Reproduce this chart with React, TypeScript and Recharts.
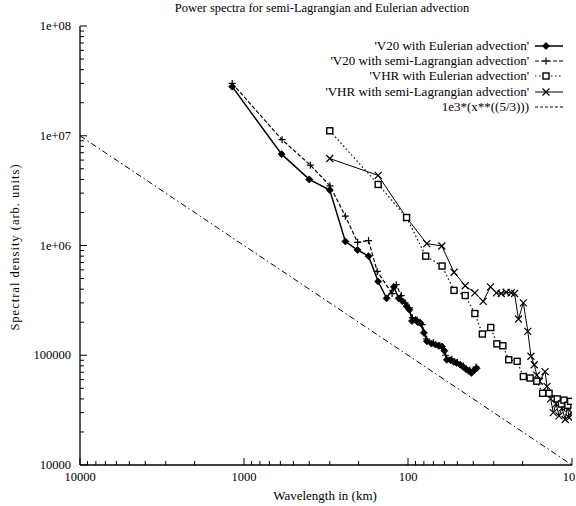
import React from 'react';
import { LineChart, Line, XAxis, YAxis, Legend } from 'recharts';

// ---- data (wavelength in km, spectral density) ----
const v20EulerWavelength = [1180, 590, 400, 300, 241, 203, 174, 152, 135, 122, 114, 108, 102, 98, 94.5, 90, 87, 84, 80, 76.7, 72, 68, 65, 62, 60, 58, 55, 52.5, 50.5, 48, 46, 44, 42.5, 41, 39.5, 38.2];
const v20EulerDensity = [2.8e7, 6.8e6, 4.0e6, 3.2e6, 1.09e6, 9.1e5, 8.0e5, 4.7e5, 3.3e5, 4.2e5, 3.3e5, 3.1e5, 2.8e5, 2.6e5, 2.05e5, 2.1e5, 2.0e5, 1.97e5, 1.6e5, 1.34e5, 1.28e5, 1.25e5, 1.22e5, 1.2e5, 1.1e5, 9.1e4, 9.0e4, 8.7e4, 8.5e4, 8.2e4, 7.8e4, 7.4e4, 7.2e4, 6.9e4, 7.3e4, 7.6e4];

const v20SemiLagWavelength = [1180, 586, 394, 299, 241, 203, 174, 154, 125, 118, 110, 104, 98, 94, 88, 82, 77, 70, 64, 59, 54, 50, 46, 42, 38.5];
const v20SemiLagDensity = [3.0e7, 9.2e6, 5.4e6, 3.5e6, 1.85e6, 1.07e6, 1.11e6, 5.8e5, 3.65e5, 4.4e5, 3.5e5, 3.0e5, 2.7e5, 2.2e5, 2.1e5, 1.9e5, 1.4e5, 1.3e5, 1.22e5, 1.0e5, 9.2e4, 8.6e4, 8.0e4, 7.3e4, 7.8e4];

const vhrEulerWavelength = [300, 152, 102, 78, 62, 52.4, 44.8, 39.1, 35.2, 31.3, 28.7, 26.4, 24.3, 21.6, 19.8, 18, 16.4, 15.1, 13.8, 12.3, 11.6, 11.2, 10.6, 10.2];
const vhrEulerDensity = [1.11e7, 3.6e6, 1.8e6, 8.0e5, 6.5e5, 3.9e5, 3.5e5, 2.4e5, 1.56e5, 1.79e5, 1.27e5, 1.22e5, 9.1e4, 8.8e4, 6.4e4, 6.2e4, 5.8e4, 4.5e4, 4.5e4, 4.0e4, 3.6e4, 3.9e4, 3.5e4, 3.8e4];

const vhrSemiLagWavelength = [300, 152, 102, 76.8, 62.2, 52.4, 44.8, 39.1, 34.8, 31.4, 28.9, 27, 25.2, 23.5, 22.4, 21.2, 19.8, 18.6, 17.8, 17, 16.4, 15.8, 14.6, 14.2, 13.5, 13, 12.5, 12, 11.5, 11, 10.7, 10.4, 10.1];
const vhrSemiLagDensity = [6.2e6, 4.35e6, 1.79e6, 1.04e6, 9.9e5, 5.7e5, 4.3e5, 3.7e5, 3.1e5, 4.2e5, 3.7e5, 3.65e5, 3.75e5, 3.7e5, 3.65e5, 2.14e5, 3.0e5, 1.65e5, 9.8e4, 8.2e4, 6.6e4, 5.8e4, 7.1e4, 5.2e4, 4.0e4, 3.0e4, 3.6e4, 2.8e4, 3.3e4, 2.6e4, 3.4e4, 2.7e4, 3.0e4];

const refWavelength = [10000, 10];
const refDensity = [1e7, 1e4];

const seriesNames = [
  "'V20 with Eulerian advection'",
  "'V20 with semi-Lagrangian advection'",
  "'VHR with Eulerian advection'",
  "'VHR with semi-Lagrangian advection'",
  '1e3*(x**((5/3)))',
];

const xMajorTicks = [10, 100, 1000, 10000];
const yMajorTicks = [1e4, 1e5, 1e6, 1e7, 1e8];
const yTickLabels: Record<number, string> = { 10000: '10000', 100000: '100000', 1000000: '1e+06', 10000000: '1e+07', 100000000: '1e+08' };
const minorMultipliers = [1, 2, 3, 4, 5, 6, 7, 8, 9];

const zip = (xs: number[], ys: number[]) => xs.map((x, i) => ({ x, y: ys[i] }));
const v20Euler = zip(v20EulerWavelength, v20EulerDensity);
const v20SemiLag = zip(v20SemiLagWavelength, v20SemiLagDensity);
const vhrEuler = zip(vhrEulerWavelength, vhrEulerDensity);
const vhrSemiLag = zip(vhrSemiLagWavelength, vhrSemiLagDensity);
const refLine = zip(refWavelength, refDensity);

const buildTicks = (majors: number[]) => {
  const out: number[] = [];
  for (let i = 0; i < majors.length - 1; i++) {
    for (const m of minorMultipliers) out.push(majors[i] * m);
  }
  out.push(majors[majors.length - 1]);
  return out;
};
const xTicks = buildTicks(xMajorTicks);
const yTicks = buildTicks(yMajorTicks);

const isMajor = (v: number) => Math.abs(Math.log10(v) - Math.round(Math.log10(v))) < 1e-6;

const FONT = '"Liberation Serif", "DejaVu Serif", serif';
const FS = 12;

const BottomTick = (p: any) => {
  const { x, y, payload } = p;
  const v = payload.value;
  const mj = isMajor(v);
  const shift = v === 10 ? -3 : 0;
  return (
    <g>
      <line x1={x} x2={x} y1={y} y2={y - (mj ? 7 : 4)} stroke="#000" strokeWidth={1} />
      {mj && (
        <text x={x + shift} y={y + 16} textAnchor="middle" fontSize={12.5} fontFamily={FONT} fill="#000">
          {String(v)}
        </text>
      )}
    </g>
  );
};
const TopTick = (p: any) => {
  const { x, y, payload } = p;
  const mj = isMajor(payload.value);
  return <line x1={x} x2={x} y1={y} y2={y + (mj ? 7 : 4)} stroke="#000" strokeWidth={1} />;
};
const LeftTick = (p: any) => {
  const { x, y, payload } = p;
  const v = payload.value;
  const mj = isMajor(v);
  return (
    <g>
      <line x1={x} x2={x + (mj ? 7 : 4)} y1={y} y2={y} stroke="#000" strokeWidth={1} />
      {mj && (
        <text x={x - 9} y={y + 4} textAnchor="end" fontSize={12.5} fontFamily={FONT} fill="#000">
          {yTickLabels[Math.round(v)]}
        </text>
      )}
    </g>
  );
};
const RightTick = (p: any) => {
  const { x, y, payload } = p;
  const mj = isMajor(payload.value);
  return <line x1={x} x2={x - (mj ? 7 : 4)} y1={y} y2={y} stroke="#000" strokeWidth={1} />;
};

const Diamond = ({ cx, cy }: any) => (
  <path d={`M${cx},${cy - 3.5}L${cx + 3.5},${cy}L${cx},${cy + 3.5}L${cx - 3.5},${cy}Z`} fill="#000" stroke="#000" strokeWidth={0.8} />
);
const Plus = ({ cx, cy }: any) => (
  <path d={`M${cx - 3.5},${cy}L${cx + 3.5},${cy}M${cx},${cy - 3.5}L${cx},${cy + 3.5}`} stroke="#000" strokeWidth={1.2} fill="none" />
);
const Square = ({ cx, cy }: any) => (
  <rect x={cx - 3} y={cy - 3} width={6} height={6} fill="#fff" stroke="#000" strokeWidth={1.4} />
);
const Cross = ({ cx, cy }: any) => (
  <path d={`M${cx - 3.5},${cy - 3.5}L${cx + 3.5},${cy + 3.5}M${cx - 3.5},${cy + 3.5}L${cx + 3.5},${cy - 3.5}`} stroke="#000" strokeWidth={1.2} fill="none" />
);

const markers = [Diamond, Plus, Square, Cross, null];
const dashes = [undefined, '4 2', '1.5 2.5', undefined, '6 3 1.5 3'];
const widths = [1.5, 1.2, 1.2, 1, 1];

const mkDot = (M: any, id: string) => (p: any) => <M key={`${id}-${p.index}`} cx={p.cx} cy={p.cy} />;

const LegendContent = () => (
  <div style={{ fontFamily: FONT, fontSize: 13, color: '#000' }}>
    {seriesNames.map((name, i) => {
      const M = markers[i];
      return (
        <div key={name} style={{ display: 'flex', justifyContent: 'flex-end', alignItems: 'center', height: 15.3 }}>
          <span style={{ whiteSpace: 'nowrap' }}>{name}</span>
          <svg width={30} height={10} style={{ marginLeft: 5 }}>
            <line x1={1} x2={29} y1={5} y2={5} stroke="#000" strokeWidth={widths[i]} strokeDasharray={dashes[i] ? (i === 4 ? '3 2' : dashes[i]) : undefined} />
            {M && <M cx={12} cy={5} />}
          </svg>
        </div>
      );
    })}
  </div>
);

export default function App() {
  return (
    <div style={{ position: 'absolute', left: 0, top: 0, width: 576, height: 506, background: '#fff' }}>
      <div style={{ position: 'absolute', left: 0, width: 644, top: 0, textAlign: 'center', fontFamily: FONT, fontSize: 12.5, lineHeight: '16px' }}>
        Power spectra for semi-Lagrangian and Eulerian advection
      </div>
      <div style={{ position: 'absolute', left: 0, width: 650, top: 488, textAlign: 'center', fontFamily: FONT, fontSize: 13, lineHeight: '16px' }}>
        Wavelength in (km)
      </div>
      <div style={{ position: 'absolute', left: 15, top: 247, width: 0, height: 0 }}>
        <div style={{ position: 'absolute', transform: 'translate(-50%, -50%) rotate(-90deg)', whiteSpace: 'nowrap', fontFamily: FONT, fontSize: 12.5, letterSpacing: 1 }}>
          Spectral density (arb. units)
        </div>
      </div>
      <LineChart width={576} height={506} margin={{ top: 26, right: 4, left: 0, bottom: 0 }} style={{ position: 'absolute', left: 0, top: 0 }}>
        <XAxis
          xAxisId={0}
          type="number"
          dataKey="x"
          scale="log"
          domain={[10, 10000]}
          reversed
          allowDataOverflow
          ticks={xTicks}
          interval={0}
          tickSize={0}
          tickMargin={0}
          height={41}
          axisLine={{ stroke: '#000', strokeWidth: 1.3 }}
          tickLine={false}
          tick={BottomTick}
        />
        <XAxis
          xAxisId="top"
          orientation="top"
          type="number"
          dataKey="x"
          scale="log"
          domain={[10, 10000]}
          reversed
          allowDataOverflow
          ticks={xTicks}
          interval={0}
          tickSize={0}
          tickMargin={0}
          height={0}
          axisLine={{ stroke: '#000', strokeWidth: 1.3 }}
          tickLine={false}
          tick={TopTick}
        />
        <YAxis
          yAxisId={0}
          type="number"
          dataKey="y"
          scale="log"
          domain={[1e4, 1e8]}
          allowDataOverflow
          ticks={yTicks}
          interval={0}
          tickSize={0}
          tickMargin={0}
          width={80}
          axisLine={{ stroke: '#000', strokeWidth: 1.3 }}
          tickLine={false}
          tick={LeftTick}
        />
        <YAxis
          yAxisId="right"
          orientation="right"
          type="number"
          dataKey="y"
          scale="log"
          domain={[1e4, 1e8]}
          allowDataOverflow
          ticks={yTicks}
          interval={0}
          tickSize={0}
          tickMargin={0}
          width={0}
          axisLine={{ stroke: '#000', strokeWidth: 1.3 }}
          tickLine={false}
          tick={RightTick}
        />
        <Legend
          layout="horizontal"
          align="center"
          verticalAlign="middle"
          content={<LegendContent />}
          wrapperStyle={{ position: 'absolute', top: 38, left: 'auto', right: 12, width: 320, height: 80 }}
        />
        <Line data={refLine} dataKey="y" name={seriesNames[4]} stroke="#000" strokeWidth={widths[4]} strokeDasharray={dashes[4]} dot={false} isAnimationActive={false} />
        <Line data={vhrSemiLag} dataKey="y" name={seriesNames[3]} stroke="#000" strokeWidth={widths[3]} dot={mkDot(Cross, 'vs')} isAnimationActive={false} />
        <Line data={vhrEuler} dataKey="y" name={seriesNames[2]} stroke="#000" strokeWidth={widths[2]} strokeDasharray={dashes[2]} dot={mkDot(Square, 've')} isAnimationActive={false} />
        <Line data={v20SemiLag} dataKey="y" name={seriesNames[1]} stroke="#000" strokeWidth={widths[1]} strokeDasharray={dashes[1]} dot={mkDot(Plus, 'ss')} isAnimationActive={false} />
        <Line data={v20Euler} dataKey="y" name={seriesNames[0]} stroke="#000" strokeWidth={widths[0]} dot={mkDot(Diamond, 'se')} isAnimationActive={false} />
      </LineChart>
    </div>
  );
}
